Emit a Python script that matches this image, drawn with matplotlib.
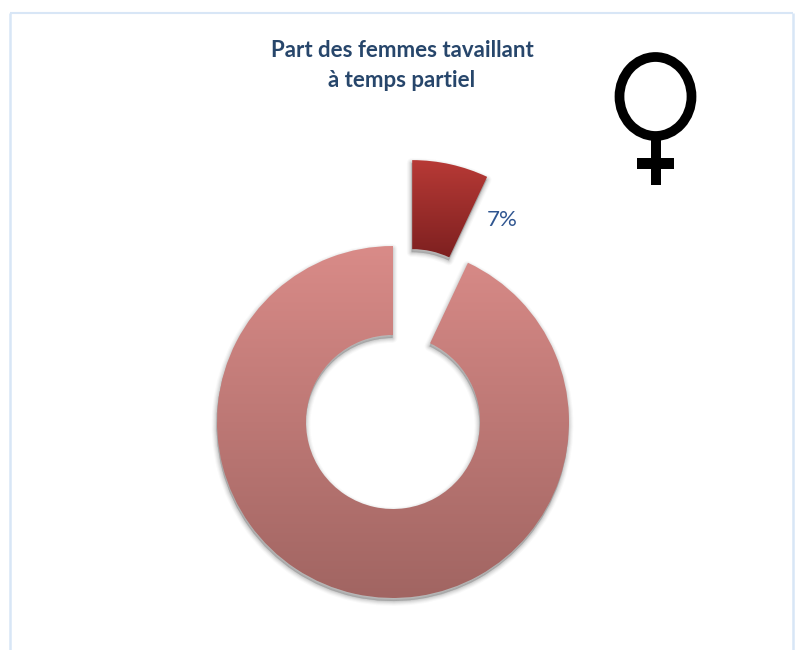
import numpy as np
import matplotlib
matplotlib.use("Agg")
import matplotlib.pyplot as plt
from matplotlib.colors import LinearSegmentedColormap
from matplotlib.patches import Ellipse, Rectangle, Wedge

title = "Part des femmes tavaillant\nà temps partiel"
values = [7, 93]
labels = ["7%", ""]
top_colors = ["#b83a36", "#d98b88"]
bottom_colors = ["#7e2020", "#a16562"]

W, H = 799, 650


def py(y):
    # y du haut de l'image -> y de l'axe
    return H - y


plt.rcParams["font.family"] = ["Lato", "DejaVu Sans"]

fig = plt.figure(figsize=(W / 100, H / 100), dpi=100)
ax = fig.add_axes([0, 0, 1, 1])

wedges, _ = ax.pie(
    values,
    explode=[88, 0],
    center=(393, py(422)),
    radius=176,
    startangle=90,
    counterclock=False,
    wedgeprops=dict(width=89, linewidth=0),
    frame=True,
)

# ombre floue + degrade vertical pour chaque secteur
for w, c_top, c_bot in zip(wedges, top_colors, bottom_colors):
    cx, cy = w.center
    for lw, a in [(7, 0.035), (5.5, 0.05), (4, 0.07), (2.5, 0.09), (1, 0.11)]:
        ax.add_patch(Wedge((cx - 0.5, cy - 3), w.r, w.theta1, w.theta2, width=w.width,
                           fc="#555555", ec="#555555", lw=lw, alpha=a, zorder=1, joinstyle="round"))
    w.set_facecolor("none")
    w.set_zorder(2)

    bbox = w.get_path().get_extents(w.get_patch_transform())
    cmap = LinearSegmentedColormap.from_list("grad", [c_top, c_bot])
    im = ax.imshow(
        np.linspace(0, 1, 256).reshape(-1, 1),
        cmap=cmap,
        extent=(bbox.x0, bbox.x1, bbox.y0, bbox.y1),
        origin="upper",
        aspect="auto",
        zorder=3,
    )
    im.set_clip_path(w.get_path(), w.get_patch_transform() + ax.transData)

ax.set_xlim(0, W)
ax.set_ylim(0, H)
ax.set_aspect("auto")
ax.axis("off")

# cadre ouvert en bas
frame_color = "#d8e6f6"
ax.plot([10, 10], [py(650), py(12.5)], color=frame_color, lw=1.8, solid_capstyle="butt")
ax.plot([10, 793], [py(12.5), py(12.5)], color=frame_color, lw=1.5, solid_capstyle="butt")
ax.plot([793, 793], [py(12.5), py(650)], color=frame_color, lw=1.8, solid_capstyle="butt")

ax.text(402, py(65.5), title, ha="center", va="center", fontsize=16, fontweight="bold",
        color="#27466b", linespacing=1.58)
ax.text(502.5, py(220), labels[0], ha="center", va="center", fontsize=16, color="#2f5590")

# symbole feminin
ax.add_patch(Ellipse((655.5, py(96.5)), 72, 79, fc="none", ec="black", lw=7, zorder=4))
ax.add_patch(Rectangle((650.5, py(185)), 10, 50, fc="black", ec="none", zorder=4))
ax.add_patch(Rectangle((637, py(169)), 37, 11, fc="black", ec="none", zorder=4))

fig.savefig("out.png", dpi=100)
